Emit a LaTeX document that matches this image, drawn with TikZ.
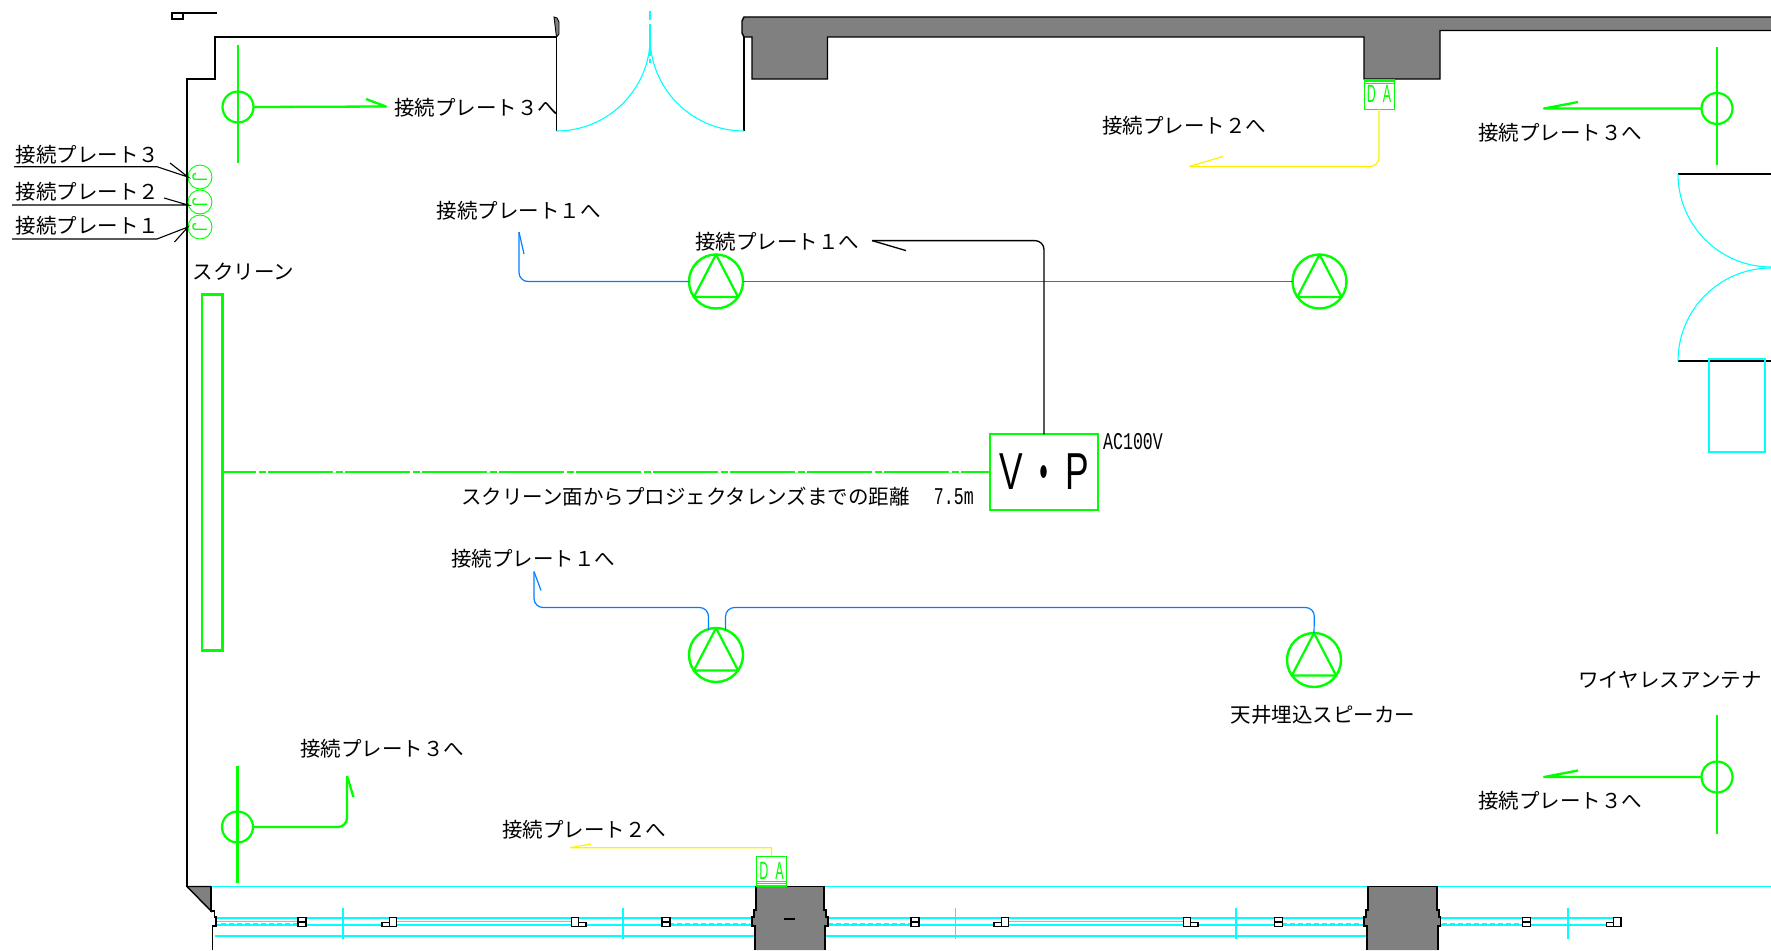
\documentclass[tikz,border=0pt]{standalone}
\usepackage{fontspec}
\newfontfamily\cjk{Noto Sans CJK JP}
\newfontfamily\narrowfont[FakeStretch=0.69]{Liberation Mono}
\newfontfamily\vpfont[FakeStretch=0.68]{Liberation Sans}
\newfontfamily\dafont[FakeStretch=0.5]{Liberation Sans}
\newfontfamily\dotfont[FakeStretch=0.5]{Noto Sans CJK JP}
\definecolor{wirecyan}{RGB}{0,255,255}
\definecolor{wireblue}{RGB}{0,127,255}
\definecolor{wallgray}{RGB}{128,128,128}
\tikzstyle{wall} = [draw=black, line width=1.4pt, line join=miter]
\tikzstyle{pillar} = [draw=black, fill=wallgray, line width=1.4pt]
\tikzstyle{door} = [draw=wirecyan, line width=1.1pt]
\tikzstyle{rail} = [draw=wirecyan, line width=1.1pt]
\tikzstyle{greenline} = [draw=green, line width=2.3pt]
\tikzstyle{blueline} = [draw=wireblue, line width=1.2pt, rounded corners=9pt]
\tikzstyle{yellowline} = [draw=yellow, line width=1.2pt, rounded corners=9pt]
\tikzstyle{blackline} = [draw=black, line width=1.3pt, rounded corners=9pt]
\tikzstyle{label} = [font=\fontsize{20.5}{20}\selectfont\cjk, inner sep=0pt, text=black, yshift=-1pt]
\tikzstyle{speaker} = [draw=green, circle, line width=2.4pt, minimum size=54pt, inner sep=0pt, outer sep=0pt]
\tikzstyle{antenna} = [draw=green, circle, line width=2.2pt, minimum size=31pt, inner sep=0pt, outer sep=0pt]
\tikzstyle{plate} = [draw=green, circle, line width=0.9pt, minimum size=24pt, inner sep=0pt, outer sep=0pt]
\tikzstyle{dabox} = [draw=green, line width=1pt, minimum width=30pt, minimum height=30pt, inner sep=0pt, outer sep=0pt, text=green, font=\fontsize{25}{25}\selectfont\dafont]
\tikzstyle{hwbox} = [draw=black, fill=white, line width=1.2pt]
\begin{document}
\begin{tikzpicture}[x=1pt, y=-1pt]
	\useasboundingbox (0,0) rectangle (1771,950);
	
	% room outline
	\draw [wall] (172,13) rectangle (183,19);
	\draw [wall] (183,13) -- (217,13);
	\draw [wall] (556.5,131) -- (556.5,37) -- (215,37) -- (215,79) -- (187,79) -- (187,886.5) -- (211,886.5);
	\filldraw [wall, fill=wallgray, line width=0.9pt] (554,17) -- (557,18) -- (559,22) -- (559,34) -- (556.5,37) -- cycle;
	\draw [wall] (744,37) -- (744,131);
	\draw [pillar] (1771,17) -- (744,17) -- (742,21) -- (742,33) -- (744,37) -- (752,37) -- (752,79) -- (827.5,79) -- (827.5,37) -- (1364,37) -- (1364,79) -- (1440,79) -- (1440,30.5) -- (1771,30.5);
	\draw [wall] (1678,174) -- (1771,174);
	\draw [wall] (1678,361) -- (1771,361);
	
	% doors
	\draw [door] (556.5,131) arc [start angle=90, end angle=0, radius=93.7];
	\draw [door] (744,131) arc [start angle=90, end angle=180, radius=94];
	\draw [door] (650,11) -- (650,20) (650,24) -- (650,56) (650,59) -- (650,63);
	\draw [door] (1678,174) arc [start angle=180, end angle=90, radius=93];
	\draw [door] (1678,361) arc [start angle=180, end angle=270, radius=93];
	\draw [door] (1709,359) rectangle (1765,452);
	
	% bottom wall and windows
	\draw [rail] (187,886.5) -- (1771,886.5);
	\foreach \railx/\raily/\railxx in {215/918/752, 215/925/752, 215/936/755, 825/918/1366, 825/925/1366, 825/936/1366, 1439/918/1622, 1439/925/1622, 215/921.5/298, 389/921.5/579, 1001/921.5/1191} {
		\draw [rail] (\railx,\raily) -- (\railxx,\raily);
	}
	\foreach \railx/\railxx in {221/297, 669/750, 828/911, 1282/1362, 1442/1522} {
		\draw [rail, dash pattern=on 5pt off 3pt] (\railx,923.5) -- (\railxx,923.5);
	}
	\foreach \tickx in {343,623,955.6,1236,1568} {
		\draw [rail] (\tickx,908) -- (\tickx,939);
	}
	\filldraw [wall, fill=wallgray] (187,886.5) -- (211,886.5) -- (211,911) -- cycle;
	\draw [wall] (211,886.5) -- (211,911) -- (214.5,911) -- (214.5,917) -- (216,917) -- (216,926) -- (212.5,926) -- (212.5,950);
	\draw [pillar] (755,950) -- (755,926) -- (752,926) -- (752,917) -- (754,917) -- (754,910) -- (756,910) -- (756,886.5) -- (824,886.5) -- (824,910) -- (826,910) -- (826,917) -- (828,917) -- (828,926) -- (825,926) -- (825,950);
	\draw [pillar] (1367,950) -- (1367,926) -- (1364,926) -- (1364,917) -- (1366,917) -- (1366,910) -- (1368,910) -- (1368,886.5) -- (1437,886.5) -- (1437,910) -- (1439,910) -- (1439,917) -- (1440.5,917) -- (1440.5,926) -- (1438,926) -- (1438,950);
	\draw [wall] (784,919) -- (795,919);
	
	% window fittings
	\foreach \hwx in {298,662,911,1274.5,1522.5} {
		\draw [hwbox] (\hwx,917.5) rectangle ++(8,4.5);
		\draw [hwbox] (\hwx,922) rectangle ++(8,4.5);
	}
	\foreach \hwx in {382,994,1606.5} {
		\draw [hwbox] (\hwx,922.5) rectangle ++(7.2,4);
		\draw [hwbox] (\hwx+7.2,917.5) rectangle ++(7.2,9);
	}
	\foreach \hwx in {571.5,1183.5} {
		\draw [hwbox] (\hwx,917.5) rectangle ++(7.2,9);
		\draw [hwbox] (\hwx+7.2,922.5) rectangle ++(7.2,4);
	}
	
	% screen and projector
	\node [draw=green, line width=2.3pt, minimum width=20.5pt, minimum height=356pt, inner sep=0pt, outer sep=0pt] (screen) at (212.2,472.5) {};
	\node [draw=green, line width=2.6pt, minimum width=108pt, minimum height=76pt, inner sep=0pt, outer sep=0pt] (vp) at (1044,472) {\fontsize{52}{52}\selectfont\vpfont V\hspace{9.5pt}{\fontsize{46}{46}\selectfont\bfseries\dotfont ・}\hspace{9.5pt}P};
	\path [greenline, dash pattern=on 65pt off 2.5pt on 7pt off 2.5pt, dash phase=31pt] (screen.east |- vp.west) to (vp.west);
	\node [inner sep=0pt, font=\fontsize{24}{24}\selectfont\narrowfont] (ac) at (1133,442) {AC100V};
	\node [label, anchor=west] (dist) at (461,496) {スクリーン面からプロジェクタレンズまでの距離\hspace{24pt}{\fontsize{24}{24}\selectfont\narrowfont 7.5m}};
	\node [label] (screenlabel) at (243.5,271) {スクリーン};
	
	% speakers
	\node [speaker] (spkA) at (716,281.5) {};
	\node [speaker] (spkB) at (1319.5,281.5) {};
	\node [speaker] (spkC) at (716,655) {};
	\node [speaker] (spkD) at (1314,660) {};
	\foreach \spk in {spkA,spkB,spkC,spkD} {
		\draw [draw=green, line width=2.2pt, line join=round] (\spk.90) -- (\spk.215) -- (\spk.325) -- cycle;
	}
	\node [label] (labelA) at (777,241) {接続プレート１へ};
	\node [label] (labelB) at (518.5,210) {接続プレート１へ};
	\node [label] (labelC) at (533,558) {接続プレート１へ};
	\node [label] (labelD) at (1323,714) {天井埋込スピーカー};
	
	\coordinate (tipA) at (519,232);
	\coordinate (tipC) at (534,571.5);
	\coordinate (tipV) at (872,240.6);
	\path [blueline] (spkA.east) to (spkB.west);
	\draw [blueline] (spkA.west) -- (tipA |- spkA.west) -- (tipA);
	\draw [blueline] (tipA) -- ++(5,22);
	\draw [blueline] (708.5,630) -- (708.5,607.5) -- (tipC |- 0,607.5) -- (tipC);
	\draw [blueline] (tipC) -- ++(7,19);
	\draw [blueline] (725.5,630) -- (725.5,607.5) -- (1314.5,607.5) -- (spkD.north);
	\draw [blackline] (vp.north) -- (1044,240.6) -- (tipV);
	\draw [blackline] (tipV) -- ++(34,10);
	
	% antennas
	\node [antenna] (antTL) at (238,107) {};
	\node [antenna] (antTR) at (1717,108.5) {};
	\node [antenna] (antBL) at (237.5,827) {};
	\node [antenna] (antBR) at (1717,777) {};
	\draw [greenline] (238,45) -- (238,163);
	\draw [greenline] (1717,47) -- (1717,165);
	\draw [greenline] (237.5,766) -- (237.5,883);
	\draw [greenline] (1717,715) -- (1717,833.5);
	\coordinate (tipTL) at (386,106.5);
	\coordinate (tipTR) at (1544,108.5);
	\coordinate (tipBR) at (1544,777);
	\coordinate (tipBL) at (347,776);
	\draw [greenline, line join=round] (antTL.east) -- (tipTL) -- ++(-20,-7.5);
	\draw [greenline, line join=round] (antTR.west) -- (tipTR) -- ++(34,-6.5);
	\draw [greenline, line join=round] (antBR.west) -- (tipBR) -- ++(34,-6.5);
	\draw [greenline, rounded corners=9pt] (antBL.east) -- (tipBL |- antBL.east) -- (tipBL);
	\draw [greenline] (tipBL) -- ++(6.5,21);
	\node [label] (labelTL) at (476,107) {接続プレート３へ};
	\node [label] (labelTR) at (1560,132) {接続プレート３へ};
	\node [label] (labelBL) at (382,748) {接続プレート３へ};
	\node [label] (labelBR) at (1560,800) {接続プレート３へ};
	\node [label] (labelW) at (1670,679) {ワイヤレスアンテナ};
	
	% plates at the left wall
	\node [plate] (plate3) at (200,177) {};
	\node [plate] (plate2) at (200,202) {};
	\node [plate] (plate1) at (200,227) {};
	\foreach \plate in {plate1,plate2,plate3} {
		\draw [draw=green, line width=1.3pt, rounded corners=2pt] (\plate.center) ++(-3.8,-3.3) -- ++(-3.2,0) -- ++(0,5.6) -- ++(13.9,0);
	}
	\node [label] (label3) at (87.5,154) {接続プレート３};
	\node [label] (label2) at (87.5,191) {接続プレート２};
	\node [label] (label1) at (87.5,225) {接続プレート１};
	\draw [wall, line width=1.1pt] (14,166.7) -- (157,166.7) -- (plate3.west) -- (170,163);
	\draw [wall, line width=1.1pt] (12,205) -- (plate2.west |- 0,205) -- (164,198);
	\draw [wall, line width=1.1pt] (12,239) -- (157,239) -- (plate1.west) -- (174.5,242);
	
	% outlets
	\node [dabox] (daT) at (1379,94) {\raisebox{-3pt}{D\hspace{7pt}A}};
	\node [dabox] (daB) at (771.5,871) {\raisebox{1pt}{D\hspace{7pt}A}};
	\foreach \bandy in {80,81.8,83.6} {
		\draw [draw=green, line width=0.7pt] (daT.west |- 0,\bandy) -- (daT.east |- 0,\bandy);
	}
	\foreach \bandy in {881.5,883.3,885} {
		\draw [draw=green, line width=0.7pt] (daB.west |- 0,\bandy) -- (daB.east |- 0,\bandy);
	}
	\coordinate (tipDT) at (1189,166.5);
	\coordinate (tipDB) at (570,847.7);
	\draw [yellowline] (daT.south) -- (daT.south |- tipDT) -- (tipDT);
	\draw [yellowline] (tipDT) -- ++(34,-10);
	\draw [yellowline, rounded corners=0pt] (daB.north) -- (daB.north |- tipDB) -- (tipDB) -- ++(21,-3.7);
	\node [label] (labelDT) at (1184,125) {接続プレート２へ};
	\node [label] (labelDB) at (584,829) {接続プレート２へ};
\end{tikzpicture}
\end{document}
